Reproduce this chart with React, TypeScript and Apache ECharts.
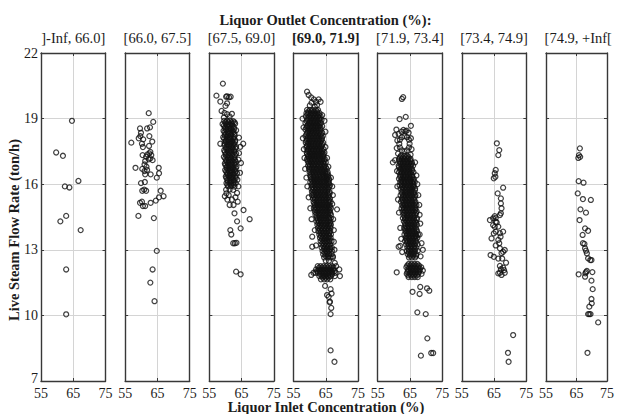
import React, { useEffect, useRef } from "react";
import * as echarts from "echarts";

// Outlet-concentration bins, one panel each
const binLabels = [
  "]-Inf, 66.0]",
  "[66.0, 67.5]",
  "[67.5, 69.0]",
  "[69.0, 71.9]",
  "[71.9, 73.4]",
  "[73.4, 74.9]",
  "[74.9, +Inf[",
];
const highlightedBin = 3;
const outletTitle = "Liquor Outlet Concentration (%):";
const inletTitle = "Liquor Inlet Concentration (%)";
const steamTitle = "Live Steam Flow Rate (ton/h)";
const xRange = [55, 75];
const xStep = 10;
const yRange = [7, 22];
const yStep = 3;

// [inlet concentration %, live steam t/h]
const bin1: number[][] = [
  [64.6, 18.9], [59.7, 17.45], [61.8, 17.3], [66.6, 16.15], [62.4, 15.9], [63.8, 15.85],
  [62.8, 14.55], [61.0, 14.3], [67.3, 13.9], [62.8, 12.1], [62.8, 10.05],
];

const bin2: number[][] = [
  [62.3, 19.25], [63.7, 18.85], [59.6, 18.55], [61.8, 18.55], [62.7, 18.6], [59.9, 18.35],
  [62.5, 18.2], [59.2, 18.1], [60.6, 18.05], [59.7, 18.2], [56.9, 17.9], [63.4, 17.95],
  [60.2, 17.85], [60.5, 17.7], [62.4, 17.75], [62.8, 17.48], [62.5, 17.41], [63.1, 17.33],
  [61.9, 17.36], [61.5, 17.26], [62.8, 17.18], [63.5, 17.1], [62.3, 17.14], [61.2, 17.06],
  [60.4, 17.33], [61.6, 16.8], [61.0, 16.9], [58.2, 16.75], [65.4, 16.75], [65.5, 16.5],
  [64.8, 16.3], [62.9, 16.45], [61.0, 16.6], [61.2, 16.45], [61.8, 16.65], [60.3, 16.7],
  [59.9, 16.05], [61.1, 16.1], [61.5, 15.7], [60.9, 15.75], [60.3, 15.7], [66.0, 15.7],
  [66.9, 15.45], [65.5, 15.4], [64.5, 15.25], [59.6, 15.15], [60.2, 15.2], [60.5, 15.0],
  [61.2, 15.0], [62.9, 15.15], [59.1, 14.55], [63.9, 14.45], [64.8, 12.95], [63.5, 12.1],
  [62.8, 11.5], [64.1, 10.65],
];

const bin3: number[][] = [
  [59.2, 20.6], [57.2, 20.05], [60.2, 20.0], [60.5, 20.02], [61.1, 19.98], [61.6, 20.0],
  [58.4, 19.78], [60.5, 19.7], [60.0, 19.58], [58.8, 19.35], [59.7, 19.26], [60.5, 19.2],
  [61.3, 19.1], [62.0, 19.22], [59.5, 19.05],
  [59.6, 18.9], [60.5, 18.9], [61.4, 18.92], [62.4, 18.88],
  [59.1, 18.75], [60.1, 18.76], [61.0, 18.74], [62.0, 18.75], [63.0, 18.77],
  [59.8, 18.6], [60.7, 18.62], [61.6, 18.58], [62.6, 18.6],
  [59.4, 18.45], [60.3, 18.46], [61.2, 18.44], [62.2, 18.45], [63.3, 18.47],
  [60.0, 18.3], [60.9, 18.31], [61.8, 18.29], [62.8, 18.3],
  [59.3, 18.15], [60.4, 18.16], [61.4, 18.14], [62.5, 18.15], [64.2, 18.13],
  [60.1, 18.0], [61.0, 18.02], [62.0, 17.98], [63.0, 18.0],
  [58.4, 17.85], [59.7, 17.86], [60.6, 17.84], [61.6, 17.85], [62.6, 17.86], [65.5, 17.85],
  [60.2, 17.7], [61.1, 17.72], [62.1, 17.69], [63.3, 17.7], [64.6, 17.71],
  [59.6, 17.55], [60.7, 17.56], [61.7, 17.54], [62.7, 17.55],
  [60.1, 17.4], [61.2, 17.41], [62.2, 17.39], [63.3, 17.4], [64.2, 17.42],
  [59.5, 17.25], [60.6, 17.26], [61.6, 17.24], [62.7, 17.25],
  [60.2, 17.1], [61.1, 17.11], [62.1, 17.09], [63.0, 17.1], [64.0, 17.12],
  [59.8, 16.95], [60.8, 16.96], [61.8, 16.94], [62.8, 16.95], [64.8, 16.97],
  [60.4, 16.8], [61.3, 16.81], [62.3, 16.79], [63.4, 16.8],
  [59.9, 16.65], [60.9, 16.66], [61.9, 16.64], [62.9, 16.65],
  [60.5, 16.5], [61.5, 16.51], [62.5, 16.49], [63.6, 16.5], [64.5, 16.52],
  [60.1, 16.35], [61.1, 16.36], [62.1, 16.34], [63.1, 16.35],
  [60.6, 16.2], [61.6, 16.21], [62.6, 16.19], [63.7, 16.2],
  [60.3, 16.05], [61.3, 16.06], [62.3, 16.04], [63.2, 16.05],
  [60.8, 15.9], [61.8, 15.91], [62.8, 15.89], [64.0, 15.9],
  [60.2, 15.75], [61.3, 15.76], [62.4, 15.74],
  [60.3, 15.58], [61.0, 15.5], [63.6, 15.6], [63.1, 15.4], [62.0, 15.3], [61.3, 15.05],
  [62.5, 15.05], [63.8, 15.2], [59.8, 15.45], [60.6, 15.3],
  [62.8, 14.67], [65.6, 14.82], [67.5, 14.4], [63.6, 14.3], [61.5, 13.9], [61.8, 13.7],
  [64.7, 13.98], [62.4, 13.3], [62.9, 13.3], [63.4, 13.32], [63.3, 12.0], [64.7, 11.88],
];

// densest readings of the [67.5, 69.0] bin
const bin3Core: number[][] = [
  [60.0, 18.83], [60.9, 18.83], [61.9, 18.83], [62.8, 18.83],
  [59.5, 18.68], [60.4, 18.68], [61.3, 18.68], [62.2, 18.68],
  [60.0, 18.53], [60.9, 18.53], [61.8, 18.53], [62.7, 18.53],
  [59.7, 18.38], [60.6, 18.38], [61.5, 18.38], [62.5, 18.38],
  [59.8, 18.23], [60.8, 18.23], [61.8, 18.23], [62.8, 18.23],
  [59.6, 18.08], [60.5, 18.08], [61.5, 18.08], [62.5, 18.08],
  [60.1, 17.93], [61.1, 17.93], [62.1, 17.93], [63.0, 17.93],
  [59.7, 17.78], [60.6, 17.78], [61.6, 17.78], [62.6, 17.78],
  [60.2, 17.63], [61.2, 17.63], [62.2, 17.63], [63.1, 17.63],
  [59.8, 17.48], [60.7, 17.48], [61.7, 17.48], [62.7, 17.48],
  [60.1, 17.33], [61.1, 17.33], [62.1, 17.33], [63.0, 17.33],
  [59.9, 17.18], [60.8, 17.18], [61.8, 17.18], [62.7, 17.18],
  [60.3, 17.03], [61.3, 17.03], [62.3, 17.03], [63.2, 17.03],
  [60.0, 16.88], [60.9, 16.88], [61.9, 16.88], [62.9, 16.88],
  [60.4, 16.73], [61.4, 16.73], [62.4, 16.73], [63.2, 16.73],
  [60.2, 16.58], [61.1, 16.58], [62.1, 16.58], [63.1, 16.58],
  [60.6, 16.43], [61.6, 16.43], [62.6, 16.43],
  [60.3, 16.28], [61.2, 16.28], [62.2, 16.28], [63.2, 16.28],
  [60.7, 16.13], [61.7, 16.13], [62.7, 16.13],
  [60.6, 15.98], [61.6, 15.98], [62.6, 15.98],
];

const bin4: number[][] = [
  [59.2, 20.23], [59.7, 20.08], [60.5, 19.97], [61.3, 19.88], [62.0, 19.77], [62.8, 19.88],
  [60.6, 19.73], [60.05, 19.6], [61.6, 19.54], [62.3, 19.62], [63.4, 19.77],
  [59.2, 19.4], [60.1, 19.4], [61.0, 19.4], [61.9, 19.4], [62.6, 19.4],
  [59.0, 19.25], [59.6, 19.25], [60.5, 19.25], [61.4, 19.25], [62.3, 19.25], [63.1, 19.25],
  [58.8, 19.1], [59.9, 19.1], [60.8, 19.1], [61.7, 19.1], [62.6, 19.1], [63.4, 19.1],
  [59.3, 18.95], [60.3, 18.95], [61.2, 18.95], [62.1, 18.95], [63.0, 18.95], [63.7, 18.95],
  [58.7, 18.8], [59.8, 18.8], [60.7, 18.8], [61.6, 18.8], [62.5, 18.8], [63.5, 18.8],
  [59.2, 18.65], [60.2, 18.65], [61.1, 18.65], [62.0, 18.65], [63.0, 18.65], [63.9, 18.65],
  [58.7, 18.5], [59.7, 18.5], [60.6, 18.5], [61.5, 18.5], [62.5, 18.5], [63.4, 18.5],
  [59.2, 18.35], [60.1, 18.35], [61.0, 18.35], [62.0, 18.35], [62.9, 18.35], [63.9, 18.35],
  [58.7, 18.2], [59.6, 18.2], [60.5, 18.2], [61.5, 18.2], [62.4, 18.2], [63.4, 18.2], [64.1, 18.2],
  [59.1, 18.05], [60.0, 18.05], [61.0, 18.05], [61.9, 18.05], [62.9, 18.05], [63.8, 18.05],
  [58.8, 17.9], [59.6, 17.9], [60.5, 17.9], [61.4, 17.9], [62.4, 17.9], [63.3, 17.9], [64.2, 17.9],
  [59.1, 17.75], [60.0, 17.75], [61.0, 17.75], [61.9, 17.75], [62.9, 17.75], [63.8, 17.75],
  [59.5, 17.6], [60.5, 17.6], [61.4, 17.6], [62.4, 17.6], [63.3, 17.6], [64.3, 17.6],
  [59.1, 17.45], [60.0, 17.45], [60.9, 17.45], [61.9, 17.45], [62.8, 17.45], [63.8, 17.45], [64.6, 17.45],
  [59.5, 17.3], [60.4, 17.3], [61.4, 17.3], [62.3, 17.3], [63.3, 17.3], [64.2, 17.3],
  [59.2, 17.15], [60.0, 17.15], [60.9, 17.15], [61.8, 17.15], [62.8, 17.15], [63.7, 17.15], [64.7, 17.15],
  [59.6, 17.0], [60.5, 17.0], [61.4, 17.0], [62.3, 17.0], [63.3, 17.0], [64.2, 17.0], [65.0, 17.0],
  [59.5, 16.85], [60.1, 16.85], [61.0, 16.85], [61.9, 16.85], [62.8, 16.85], [63.8, 16.85], [64.7, 16.85],
  [59.8, 16.7], [60.6, 16.7], [61.5, 16.7], [62.4, 16.7], [63.4, 16.7], [64.3, 16.7], [65.3, 16.7],
  [60.0, 16.55], [61.0, 16.55], [61.9, 16.55], [62.9, 16.55], [63.8, 16.55], [64.8, 16.55], [65.6, 16.55],
  [60.2, 16.4], [61.2, 16.4], [62.1, 16.4], [63.1, 16.4], [64.1, 16.4], [65.0, 16.4], [65.8, 16.4],
  [60.5, 16.25], [61.5, 16.25], [62.4, 16.25], [63.4, 16.25], [64.3, 16.25], [65.3, 16.25], [66.0, 16.25],
  [60.2, 16.1], [61.1, 16.1], [62.0, 16.1], [62.9, 16.1], [63.9, 16.1], [64.8, 16.1], [65.8, 16.1],
  [60.6, 15.95], [61.5, 15.95], [62.5, 15.95], [63.4, 15.95], [64.4, 15.95], [65.3, 15.95], [66.3, 15.95],
  [60.5, 15.8], [61.2, 15.8], [62.1, 15.8], [63.0, 15.8], [63.9, 15.8], [64.9, 15.8], [65.8, 15.8],
  [60.7, 15.65], [61.6, 15.65], [62.6, 15.65], [63.5, 15.65], [64.5, 15.65], [65.4, 15.65], [66.2, 15.65],
  [60.7, 15.5], [61.2, 15.5], [62.1, 15.5], [63.0, 15.5], [64.0, 15.5], [64.9, 15.5], [65.9, 15.5],
  [61.0, 15.35], [61.7, 15.35], [62.6, 15.35], [63.5, 15.35], [64.4, 15.35], [65.4, 15.35], [66.3, 15.35],
  [61.2, 15.2], [62.1, 15.2], [63.0, 15.2], [64.0, 15.2], [64.9, 15.2], [65.9, 15.2], [66.5, 15.2],
  [61.6, 15.05], [62.5, 15.05], [63.4, 15.05], [64.4, 15.05], [65.3, 15.05], [66.2, 15.05],
  [61.3, 14.9], [62.1, 14.9], [63.0, 14.9], [63.9, 14.9], [64.8, 14.9], [65.8, 14.9], [66.6, 14.9],
  [61.6, 14.75], [62.5, 14.75], [63.4, 14.75], [64.3, 14.75], [65.3, 14.75], [66.2, 14.75],
  [61.8, 14.6], [62.8, 14.6], [63.7, 14.6], [64.7, 14.6], [65.6, 14.6], [66.6, 14.6],
  [62.3, 14.45], [63.2, 14.45], [64.2, 14.45], [65.1, 14.45], [66.1, 14.45], [66.6, 14.45],
  [62.1, 14.3], [62.8, 14.3], [63.7, 14.3], [64.6, 14.3], [65.6, 14.3], [66.5, 14.3],
  [62.4, 14.15], [63.3, 14.15], [64.2, 14.15], [65.1, 14.15], [66.1, 14.15], [66.6, 14.15],
  [62.6, 14.0], [63.6, 14.0], [64.6, 14.0], [65.5, 14.0], [66.5, 14.0],
  [62.7, 13.85], [63.6, 13.85], [64.5, 13.85], [65.5, 13.85], [66.4, 13.85],
  [63.0, 13.7], [64.0, 13.7], [64.9, 13.7], [65.9, 13.7], [66.6, 13.7],
  [63.2, 13.55], [64.0, 13.55], [64.9, 13.55], [65.8, 13.55], [66.5, 13.55],
  [63.4, 13.4], [64.4, 13.4], [65.3, 13.4], [66.2, 13.4], [66.8, 13.4],
  [63.6, 13.25], [64.5, 13.25], [65.4, 13.25], [66.4, 13.25],
  [63.7, 13.1], [64.6, 13.1], [65.5, 13.1], [66.4, 13.1], [66.9, 13.1],
  [64.0, 12.95], [65.0, 12.95], [66.0, 12.95], [66.9, 12.95],
  [64.2, 12.8], [65.2, 12.8], [66.1, 12.8], [66.8, 12.8],
  [64.5, 12.65], [65.6, 12.65], [66.5, 12.65], [67.2, 12.65],
  [65.0, 12.5], [66.0, 12.5],
  [57.8, 19.0], [58.1, 18.6], [57.9, 18.1], [58.2, 17.6], [58.4, 17.2], [58.6, 16.7],
  [59.0, 16.3], [59.3, 15.9], [59.7, 15.4], [60.2, 14.9], [60.6, 14.4], [60.8, 13.6],
  [60.8, 13.14], [61.6, 13.9], [62.0, 13.2],
  [63.9, 19.16], [64.6, 18.9], [64.9, 18.4], [64.9, 17.7], [65.4, 17.2], [65.8, 16.8],
  [66.6, 16.3], [67.0, 15.9], [67.2, 15.5], [67.0, 15.1], [68.5, 14.85], [67.3, 14.4],
  [67.5, 13.9], [67.5, 13.37], [67.7, 13.0], [67.2, 12.7], [67.8, 12.4],
  [62.5, 12.25], [63.4, 12.25], [64.3, 12.25], [65.2, 12.25], [66.1, 12.25], [67.0, 12.25], [68.2, 12.25],
  [62.0, 12.1], [62.9, 12.1], [63.8, 12.1], [64.7, 12.1], [65.6, 12.1], [66.5, 12.1], [67.4, 12.1], [69.2, 12.1],
  [61.8, 11.95], [62.5, 11.95], [63.4, 11.95], [64.3, 11.95], [65.2, 11.95], [66.1, 11.95], [67.0, 11.95], [68.0, 11.95],
  [63.0, 11.8], [63.9, 11.8], [64.8, 11.8], [65.7, 11.8], [66.6, 11.8], [67.8, 11.8], [69.4, 11.8],
  [63.5, 11.65], [64.5, 11.65], [65.4, 11.65], [66.4, 11.65],
  [60.5, 11.85], [61.2, 11.95],
  [64.8, 11.35], [66.5, 11.2], [66.8, 11.0], [65.4, 10.93], [65.9, 10.85], [66.3, 10.63],
  [66.2, 10.6], [66.7, 10.34], [66.5, 10.06], [66.5, 8.4], [67.7, 7.88],
];

// densest readings of the [69.0, 71.9] bin
const bin4Core: number[][] = [
  [59.6, 19.33], [60.5, 19.33], [61.4, 19.33], [62.3, 19.33],
  [59.3, 19.18], [60.2, 19.18], [61.1, 19.18], [62.0, 19.18], [62.9, 19.18],
  [59.6, 19.03], [60.5, 19.03], [61.4, 19.03], [62.3, 19.03], [63.1, 19.03],
  [59.1, 18.88], [60.0, 18.88], [60.9, 18.88], [61.8, 18.88], [62.7, 18.88],
  [59.5, 18.73], [60.4, 18.73], [61.3, 18.73], [62.2, 18.73], [63.1, 18.73],
  [59.0, 18.58], [59.9, 18.58], [60.8, 18.58], [61.7, 18.58], [62.6, 18.58], [63.4, 18.58],
  [59.5, 18.43], [60.4, 18.43], [61.3, 18.43], [62.2, 18.43], [63.1, 18.43],
  [59.0, 18.28], [59.9, 18.28], [60.8, 18.28], [61.7, 18.28], [62.6, 18.28], [63.5, 18.28],
  [59.4, 18.13], [60.3, 18.13], [61.2, 18.13], [62.1, 18.13], [63.0, 18.13], [63.8, 18.13],
  [59.0, 17.98], [59.9, 17.98], [60.8, 17.98], [61.7, 17.98], [62.6, 17.98], [63.5, 17.98],
  [59.4, 17.83], [60.3, 17.83], [61.2, 17.83], [62.1, 17.83], [63.0, 17.83], [63.9, 17.83],
  [59.0, 17.68], [59.9, 17.68], [60.8, 17.68], [61.7, 17.68], [62.6, 17.68], [63.5, 17.68],
  [59.4, 17.53], [60.3, 17.53], [61.2, 17.53], [62.1, 17.53], [63.0, 17.53], [63.9, 17.53],
  [59.2, 17.38], [60.1, 17.38], [61.0, 17.38], [61.9, 17.38], [62.8, 17.38], [63.7, 17.38], [64.3, 17.38],
  [59.6, 17.23], [60.5, 17.23], [61.4, 17.23], [62.3, 17.23], [63.2, 17.23], [64.1, 17.23],
  [59.3, 17.08], [60.2, 17.08], [61.1, 17.08], [62.0, 17.08], [62.9, 17.08], [63.8, 17.08], [64.6, 17.08],
  [59.8, 16.93], [60.7, 16.93], [61.6, 16.93], [62.5, 16.93], [63.4, 16.93], [64.3, 16.93],
  [59.9, 16.78], [60.8, 16.78], [61.7, 16.78], [62.6, 16.78], [63.5, 16.78], [64.4, 16.78], [65.0, 16.78],
  [60.2, 16.63], [61.1, 16.63], [62.0, 16.63], [62.9, 16.63], [63.8, 16.63], [64.7, 16.63],
  [60.5, 16.48], [61.4, 16.48], [62.3, 16.48], [63.2, 16.48], [64.1, 16.48], [65.0, 16.48], [65.5, 16.48],
  [60.3, 16.33], [61.2, 16.33], [62.1, 16.33], [63.0, 16.33], [63.9, 16.33], [64.8, 16.33], [65.6, 16.33],
  [60.7, 16.18], [61.6, 16.18], [62.5, 16.18], [63.4, 16.18], [64.3, 16.18], [65.2, 16.18], [66.0, 16.18],
  [60.8, 16.03], [61.7, 16.03], [62.6, 16.03], [63.5, 16.03], [64.4, 16.03], [65.3, 16.03], [66.0, 16.03],
  [60.9, 15.88], [61.8, 15.88], [62.7, 15.88], [63.6, 15.88], [64.5, 15.88], [65.4, 15.88], [66.1, 15.88],
  [61.0, 15.73], [61.9, 15.73], [62.8, 15.73], [63.7, 15.73], [64.6, 15.73], [65.5, 15.73],
  [61.1, 15.58], [62.0, 15.58], [62.9, 15.58], [63.8, 15.58], [64.7, 15.58], [65.6, 15.58], [66.2, 15.58],
  [61.4, 15.43], [62.3, 15.43], [63.2, 15.43], [64.1, 15.43], [65.0, 15.43], [65.9, 15.43],
  [61.5, 15.28], [62.4, 15.28], [63.3, 15.28], [64.2, 15.28], [65.1, 15.28], [66.0, 15.28],
  [61.4, 15.13], [62.2, 15.13], [63.1, 15.13], [64.0, 15.13], [64.9, 15.13], [65.8, 15.13],
  [61.8, 14.98], [62.7, 14.98], [63.6, 14.98], [64.5, 14.98], [65.4, 14.98], [66.3, 14.98],
  [61.8, 14.83], [62.7, 14.83], [63.6, 14.83], [64.5, 14.83], [65.4, 14.83], [66.2, 14.83],
  [62.1, 14.68], [63.0, 14.68], [63.9, 14.68], [64.8, 14.68], [65.7, 14.68], [66.4, 14.68],
  [62.2, 14.53], [63.1, 14.53], [64.0, 14.53], [64.9, 14.53], [65.8, 14.53],
  [62.5, 14.38], [63.4, 14.38], [64.3, 14.38], [65.2, 14.38], [66.1, 14.38],
  [62.7, 14.23], [63.6, 14.23], [64.5, 14.23], [65.4, 14.23], [66.3, 14.23],
  [63.0, 14.08], [63.9, 14.08], [64.8, 14.08], [65.7, 14.08], [66.3, 14.08],
  [63.1, 13.93], [64.0, 13.93], [64.9, 13.93], [65.8, 13.93],
  [63.4, 13.78], [64.3, 13.78], [65.2, 13.78], [66.1, 13.78],
  [63.5, 13.63], [64.4, 13.63], [65.3, 13.63], [66.1, 13.63],
  [63.8, 13.48], [64.7, 13.48], [65.6, 13.48],
  [64.0, 13.33], [64.9, 13.33], [65.8, 13.33],
  [64.2, 13.18], [65.1, 13.18], [66.0, 13.18],
  [64.5, 13.03], [65.4, 13.03], [66.3, 13.03],
  [64.6, 12.88], [65.5, 12.88],
  [64.9, 12.73], [65.9, 12.73],
  [62.9, 12.18], [63.8, 12.18], [64.7, 12.18], [65.6, 12.18], [66.5, 12.18], [67.4, 12.18],
  [62.3, 12.03], [63.2, 12.03], [64.1, 12.03], [65.0, 12.03], [65.9, 12.03], [66.8, 12.03], [67.7, 12.03],
  [63.3, 11.88], [64.2, 11.88], [65.1, 11.88], [66.0, 11.88], [67.0, 11.88],
  [64.0, 11.73], [65.0, 11.73], [65.9, 11.73],
];

const bin5: number[][] = [
  [62.5, 19.9], [62.9, 19.98], [61.8, 18.98], [63.7, 19.08], [65.3, 18.67],
  [64.9, 17.85], [64.7, 18.03], [64.1, 18.15], [63.3, 18.2], [62.5, 18.15], [61.9, 18.03],
  [61.7, 17.85], [61.9, 17.68], [62.5, 17.55], [63.3, 17.5], [64.1, 17.55], [64.7, 17.68],
  [65.3, 18.1], [64.6, 18.35], [63.6, 18.42], [62.4, 18.4], [61.5, 18.3], [61.1, 18.0],
  [60.9, 17.65], [61.3, 17.4], [62.2, 17.3], [65.5, 17.6], [65.2, 17.35], [64.2, 17.3],
  [63.3, 17.3], [60.4, 18.25], [60.8, 18.5], [63.0, 18.48], [64.0, 18.45],
  [61.6, 17.15], [62.5, 17.15], [63.4, 17.15], [64.3, 17.15], [65.2, 17.15],
  [62.0, 17.0], [62.9, 17.0], [63.9, 17.0], [64.8, 17.0], [65.6, 17.0], [59.7, 17.0], [60.4, 17.1],
  [61.5, 16.85], [62.4, 16.85], [63.3, 16.85], [64.3, 16.85], [65.2, 16.85], [66.0, 16.85],
  [62.0, 16.7], [62.9, 16.7], [63.8, 16.7], [64.7, 16.7], [65.6, 16.7],
  [61.6, 16.55], [62.5, 16.55], [63.4, 16.55], [64.3, 16.55], [65.3, 16.55], [66.1, 16.55],
  [62.0, 16.4], [62.9, 16.4], [63.8, 16.4], [64.8, 16.4], [65.7, 16.4],
  [61.6, 16.25], [62.5, 16.25], [63.4, 16.25], [64.3, 16.25], [65.2, 16.25], [66.2, 16.25],
  [62.0, 16.1], [62.9, 16.1], [63.8, 16.1], [64.8, 16.1], [65.7, 16.1], [66.5, 16.1],
  [61.8, 15.95], [62.5, 15.95], [63.4, 15.95], [64.3, 15.95], [65.2, 15.95], [66.1, 15.95],
  [62.1, 15.8], [63.0, 15.8], [63.9, 15.8], [64.8, 15.8], [65.7, 15.8], [66.6, 15.8],
  [62.4, 15.65], [63.4, 15.65], [64.3, 15.65], [65.3, 15.65], [66.2, 15.65],
  [62.1, 15.5], [62.9, 15.5], [63.8, 15.5], [64.8, 15.5], [65.7, 15.5], [66.7, 15.5],
  [62.5, 15.35], [63.4, 15.35], [64.3, 15.35], [65.2, 15.35], [66.2, 15.35],
  [62.2, 15.2], [63.0, 15.2], [63.9, 15.2], [64.8, 15.2], [65.7, 15.2], [66.7, 15.2],
  [62.6, 15.05], [63.5, 15.05], [64.4, 15.05], [65.3, 15.05], [66.2, 15.05], [67.0, 15.05],
  [62.4, 14.9], [63.1, 14.9], [64.0, 14.9], [64.9, 14.9], [65.8, 14.9], [66.7, 14.9],
  [62.7, 14.75], [63.6, 14.75], [64.5, 14.75], [65.4, 14.75], [66.3, 14.75], [67.1, 14.75],
  [63.0, 14.6], [64.0, 14.6], [64.9, 14.6], [65.8, 14.6], [66.7, 14.6],
  [62.8, 14.45], [63.5, 14.45], [64.4, 14.45], [65.3, 14.45], [66.3, 14.45], [67.2, 14.45],
  [63.1, 14.3], [64.0, 14.3], [64.9, 14.3], [65.8, 14.3], [66.7, 14.3],
  [63.5, 14.15], [64.4, 14.15], [65.3, 14.15], [66.3, 14.15], [67.2, 14.15],
  [63.2, 14.0], [64.0, 14.0], [64.9, 14.0], [65.8, 14.0], [66.8, 14.0],
  [63.6, 13.85], [64.5, 13.85], [65.4, 13.85], [66.3, 13.85], [67.2, 13.85],
  [63.3, 13.7], [64.1, 13.7], [65.0, 13.7], [65.9, 13.7], [66.8, 13.7], [67.5, 13.7],
  [63.7, 13.55], [64.6, 13.55], [65.5, 13.55], [66.4, 13.55], [67.3, 13.55],
  [63.5, 13.4], [64.2, 13.4], [65.1, 13.4], [66.0, 13.4], [66.9, 13.4],
  [63.8, 13.25], [64.7, 13.25], [65.6, 13.25], [66.5, 13.25], [67.4, 13.25],
  [64.2, 13.1], [65.1, 13.1], [66.1, 13.1], [67.0, 13.1],
  [64.0, 12.95], [64.7, 12.95], [65.6, 12.95], [66.5, 12.95], [67.4, 12.95],
  [64.3, 12.8], [65.2, 12.8], [66.1, 12.8], [67.0, 12.8],
  [64.7, 12.65], [65.6, 12.65], [66.6, 12.65],
  [61.0, 16.6], [61.1, 15.9], [61.3, 15.3], [61.6, 14.7], [62.0, 14.0], [62.3, 13.5],
  [61.5, 13.14], [62.0, 13.18], [62.6, 12.9],
  [66.6, 17.0], [67.0, 16.4], [67.3, 16.0], [67.6, 15.5], [67.9, 15.05], [68.0, 14.6],
  [68.2, 14.2], [68.0, 13.7], [68.6, 13.3], [69.0, 13.0], [68.3, 12.7],
  [64.6, 12.35], [65.5, 12.35], [66.4, 12.35], [67.3, 12.35],
  [63.9, 12.2], [64.9, 12.2], [65.8, 12.2], [66.7, 12.2], [67.6, 12.2], [68.5, 12.2],
  [64.4, 12.05], [65.3, 12.05], [66.2, 12.05], [67.1, 12.05], [68.0, 12.05], [69.0, 12.05],
  [64.0, 11.9], [64.9, 11.9], [65.8, 11.9], [66.7, 11.9], [67.6, 11.9], [68.6, 11.9],
  [64.6, 11.75], [65.6, 11.75], [66.5, 11.75], [67.4, 11.75],
  [60.9, 11.97],
  [68.2, 11.3], [70.3, 11.24], [71.0, 11.13], [65.8, 11.08], [68.0, 10.98],
  [67.3, 10.14], [69.9, 10.06], [70.4, 8.95], [68.4, 8.16], [71.6, 8.28], [72.2, 8.28],
];

// densest readings of the [71.9, 73.4] bin
const bin5Core: number[][] = [
  [61.9, 17.23], [62.8, 17.23], [63.7, 17.23], [64.6, 17.23],
  [61.6, 17.08], [62.4, 17.08], [63.4, 17.08], [64.3, 17.08], [65.2, 17.08],
  [62.0, 16.93], [62.9, 16.93], [63.8, 16.93], [64.7, 16.93], [65.6, 16.93],
  [61.6, 16.78], [62.5, 16.78], [63.4, 16.78], [64.3, 16.78], [65.2, 16.78],
  [62.0, 16.63], [62.9, 16.63], [63.8, 16.63], [64.8, 16.63], [65.7, 16.63],
  [62.4, 16.48], [63.3, 16.48], [64.3, 16.48], [65.2, 16.48],
  [62.0, 16.33], [62.9, 16.33], [63.8, 16.33], [64.8, 16.33], [65.7, 16.33],
  [62.4, 16.18], [63.3, 16.18], [64.3, 16.18], [65.2, 16.18], [66.1, 16.18],
  [62.4, 16.03], [63.3, 16.03], [64.2, 16.03], [65.1, 16.03], [66.0, 16.03],
  [62.6, 15.88], [63.5, 15.88], [64.4, 15.88], [65.3, 15.88], [66.2, 15.88],
  [62.8, 15.73], [63.8, 15.73], [64.8, 15.73], [65.7, 15.73], [66.6, 15.73],
  [62.6, 15.58], [63.5, 15.58], [64.4, 15.58], [65.3, 15.58], [66.2, 15.58],
  [62.9, 15.43], [63.8, 15.43], [64.7, 15.43], [65.7, 15.43], [66.6, 15.43],
  [62.7, 15.28], [63.6, 15.28], [64.5, 15.28], [65.4, 15.28], [66.3, 15.28],
  [63.0, 15.13], [63.9, 15.13], [64.8, 15.13], [65.7, 15.13], [66.6, 15.13],
  [62.9, 14.98], [63.8, 14.98], [64.7, 14.98], [65.6, 14.98], [66.5, 14.98],
  [63.1, 14.83], [64.0, 14.83], [64.9, 14.83], [65.8, 14.83], [66.7, 14.83],
  [63.3, 14.68], [64.2, 14.68], [65.1, 14.68], [66.0, 14.68], [66.9, 14.68],
  [63.3, 14.53], [64.2, 14.53], [65.1, 14.53], [66.1, 14.53],
  [63.5, 14.38], [64.4, 14.38], [65.3, 14.38], [66.2, 14.38], [67.1, 14.38],
  [63.5, 14.23], [64.4, 14.23], [65.3, 14.23], [66.2, 14.23], [66.9, 14.23],
  [63.7, 14.08], [64.6, 14.08], [65.5, 14.08], [66.4, 14.08],
  [63.6, 13.93], [64.5, 13.93], [65.4, 13.93], [66.3, 13.93], [67.0, 13.93],
  [63.9, 13.78], [64.8, 13.78], [65.7, 13.78], [66.6, 13.78],
  [63.9, 13.63], [64.8, 13.63], [65.7, 13.63], [66.6, 13.63], [67.0, 13.63],
  [64.0, 13.48], [64.9, 13.48], [65.8, 13.48], [66.7, 13.48],
  [64.1, 13.33], [65.0, 13.33], [65.9, 13.33], [66.8, 13.33],
  [64.6, 13.18], [65.5, 13.18], [66.5, 13.18],
  [64.6, 13.03], [65.5, 13.03], [66.5, 13.03],
  [64.6, 12.88], [65.5, 12.88], [66.4, 12.88],
  [65.0, 12.73], [66.0, 12.73], [66.9, 12.73],
  [64.2, 12.28], [65.1, 12.28], [66.0, 12.28], [66.9, 12.28], [67.8, 12.28],
  [64.5, 12.13], [65.4, 12.13], [66.3, 12.13], [67.2, 12.13], [68.1, 12.13],
  [64.2, 11.98], [65.1, 11.98], [66.0, 11.98], [66.9, 11.98], [67.8, 11.98],
  [64.5, 11.83], [65.4, 11.83], [66.3, 11.83], [67.2, 11.83],
];

const bin6: number[][] = [
  [65.85, 17.87], [66.6, 17.56], [66.3, 17.33], [65.5, 16.65], [65.2, 16.5], [65.4, 16.34],
  [64.9, 16.27], [67.8, 15.84], [66.1, 15.58], [67.1, 15.35], [67.1, 15.12], [67.3, 14.9],
  [67.1, 14.67], [66.8, 14.59], [65.2, 14.54], [64.7, 14.44], [63.7, 14.36], [65.5, 14.28],
  [64.7, 14.13], [66.3, 14.06], [65.5, 13.83], [66.8, 13.76], [67.8, 13.83], [64.9, 13.75],
  [64.2, 13.52], [66.3, 13.45], [66.6, 13.3], [68.3, 12.99], [67.8, 12.91], [66.8, 13.07],
  [63.9, 12.76], [64.9, 12.68], [66.3, 12.6], [68.7, 12.41], [67.1, 12.11], [66.3, 11.92],
  [67.8, 12.18], [66.8, 12.26], [68.1, 12.07],
  [65.5, 14.45], [65.8, 14.25], [65.2, 14.05], [67.0, 13.6], [65.5, 13.2], [67.3, 12.85],
  [67.5, 12.6], [66.8, 11.95], [67.3, 11.85], [68.3, 11.95],
  [70.9, 9.1], [69.3, 8.29], [69.5, 7.88],
];

const bin7: number[][] = [
  [66.1, 17.64], [65.8, 17.33], [65.6, 17.2], [66.2, 17.25], [65.7, 16.14], [67.3, 16.07],
  [65.4, 15.58], [67.1, 15.32], [69.7, 15.28], [66.3, 14.85], [68.1, 14.7], [66.0, 14.36],
  [67.8, 13.98], [68.8, 13.87], [67.0, 13.68], [67.1, 13.3], [67.6, 13.27], [67.8, 13.07],
  [68.1, 12.96], [68.4, 12.84], [68.8, 12.61], [69.5, 12.53], [69.9, 12.53], [65.7, 11.88],
  [67.9, 11.92], [68.4, 12.03], [68.1, 11.98], [70.2, 11.98], [67.8, 11.77], [69.9, 11.59],
  [70.3, 11.2], [69.9, 10.75], [70.0, 10.55], [69.2, 10.4], [68.8, 10.06], [69.2, 10.06],
  [69.6, 10.06], [72.1, 9.68], [68.6, 8.29],
];

const bins = [
  bin1,
  bin2,
  [...bin3, ...bin3Core],
  [...bin4, ...bin4Core],
  [...bin5, ...bin5Core],
  bin6,
  bin7,
];

const SERIF = "'Liberation Serif', 'Times New Roman', Times, serif";
const AXIS_COLOR = "#383838";
const GRID_COLOR = "#d4d4d4";
const TEXT_COLOR = "#1c1c1c";

const PLOT_LEFT = 41;
const PLOT_STEP = 84.17;
const PLOT_TOP = 53;
const PLOT_W = 64.5;
const PLOT_H = 328;

function axisCommon(gridIndex: number, min: number, max: number, interval: number) {
  return {
    type: "value",
    gridIndex,
    min,
    max,
    interval,
    axisLine: { show: true, onZero: false, lineStyle: { color: AXIS_COLOR, width: 1.4 } },
    axisTick: { show: true, inside: true, length: 3, lineStyle: { color: AXIS_COLOR, width: 1 } },
  };
}

export default function App() {
  const ref = useRef<HTMLDivElement>(null);

  useEffect(() => {
    if (!ref.current) return;
    const chart = echarts.init(ref.current, undefined, { renderer: "svg" });

    const grids = bins.map((_, i) => ({
      left: PLOT_LEFT + i * PLOT_STEP,
      top: PLOT_TOP,
      width: PLOT_W,
      height: PLOT_H,
      containLabel: false,
    }));

    const xBottom = bins.map((_, i) => ({
      ...axisCommon(i, xRange[0], xRange[1], xStep),
      position: "bottom",
      axisLabel: { show: true, color: TEXT_COLOR, fontSize: 14, fontFamily: SERIF, margin: 5 },
      splitLine: { show: true, lineStyle: { color: GRID_COLOR, width: 1 } },
    }));
    const xTop = bins.map((_, i) => ({
      ...axisCommon(i, xRange[0], xRange[1], xStep),
      position: "top",
      axisLabel: { show: false },
      splitLine: { show: false },
    }));
    const yLeft = bins.map((_, i) => ({
      ...axisCommon(i, yRange[0], yRange[1], yStep),
      position: "left",
      axisLabel: {
        show: i === 0,
        color: TEXT_COLOR,
        fontSize: 14,
        fontFamily: SERIF,
        margin: 3,
        // the lowest label sits a little above its tick, clear of the x labels
        formatter: (v: number) => (v === yRange[0] ? `{low|${v}}` : `${v}`),
        rich: { low: { fontSize: 14, fontFamily: SERIF, color: TEXT_COLOR, lineHeight: 12, padding: [0, 0, 5, 0] } },
      },
      splitLine: { show: true, lineStyle: { color: GRID_COLOR, width: 1 } },
    }));
    const yRight = bins.map((_, i) => ({
      ...axisCommon(i, yRange[0], yRange[1], yStep),
      position: "right",
      axisLabel: { show: false },
      splitLine: { show: false },
    }));

    const series = bins.map((data, i) => ({
      type: "scatter",
      xAxisIndex: i,
      yAxisIndex: i,
      data,
      symbol: "circle",
      symbolSize: 5,
      silent: true,
      itemStyle: { color: "rgba(0,0,0,0)", borderColor: "#111111", borderWidth: 1.25 },
    }));

    const textStyle = (text: string, bold: boolean) => ({
      text,
      fill: TEXT_COLOR,
      font: `${bold ? "bold " : ""}14.5px ${SERIF}`,
      align: "center",
      verticalAlign: "middle",
      textAlign: "center",
      textVerticalAlign: "middle",
    });

    const graphic: any[] = [
      { type: "text", x: 325.5, y: 19.5, style: textStyle(outletTitle, true) },
      { type: "text", x: 326, y: 407, style: textStyle(inletTitle, true) },
      { type: "text", x: 14, y: 230, rotation: Math.PI / 2, style: textStyle(steamTitle, true) },
      ...binLabels.map((t, i) => ({
        type: "text",
        x: PLOT_LEFT + i * PLOT_STEP + PLOT_W / 2,
        y: 37.5,
        style: textStyle(t, i === highlightedBin),
      })),
    ];

    chart.setOption({
      animation: false,
      backgroundColor: "#ffffff",
      textStyle: { fontFamily: SERIF },
      grid: grids,
      xAxis: [...xBottom, ...xTop],
      yAxis: [...yLeft, ...yRight],
      series,
      graphic,
    });

    return () => chart.dispose();
  }, []);

  return (
    <div
      ref={ref}
      style={{ position: "fixed", left: 0, top: 0, width: 617, height: 414, background: "#fff" }}
    />
  );
}
